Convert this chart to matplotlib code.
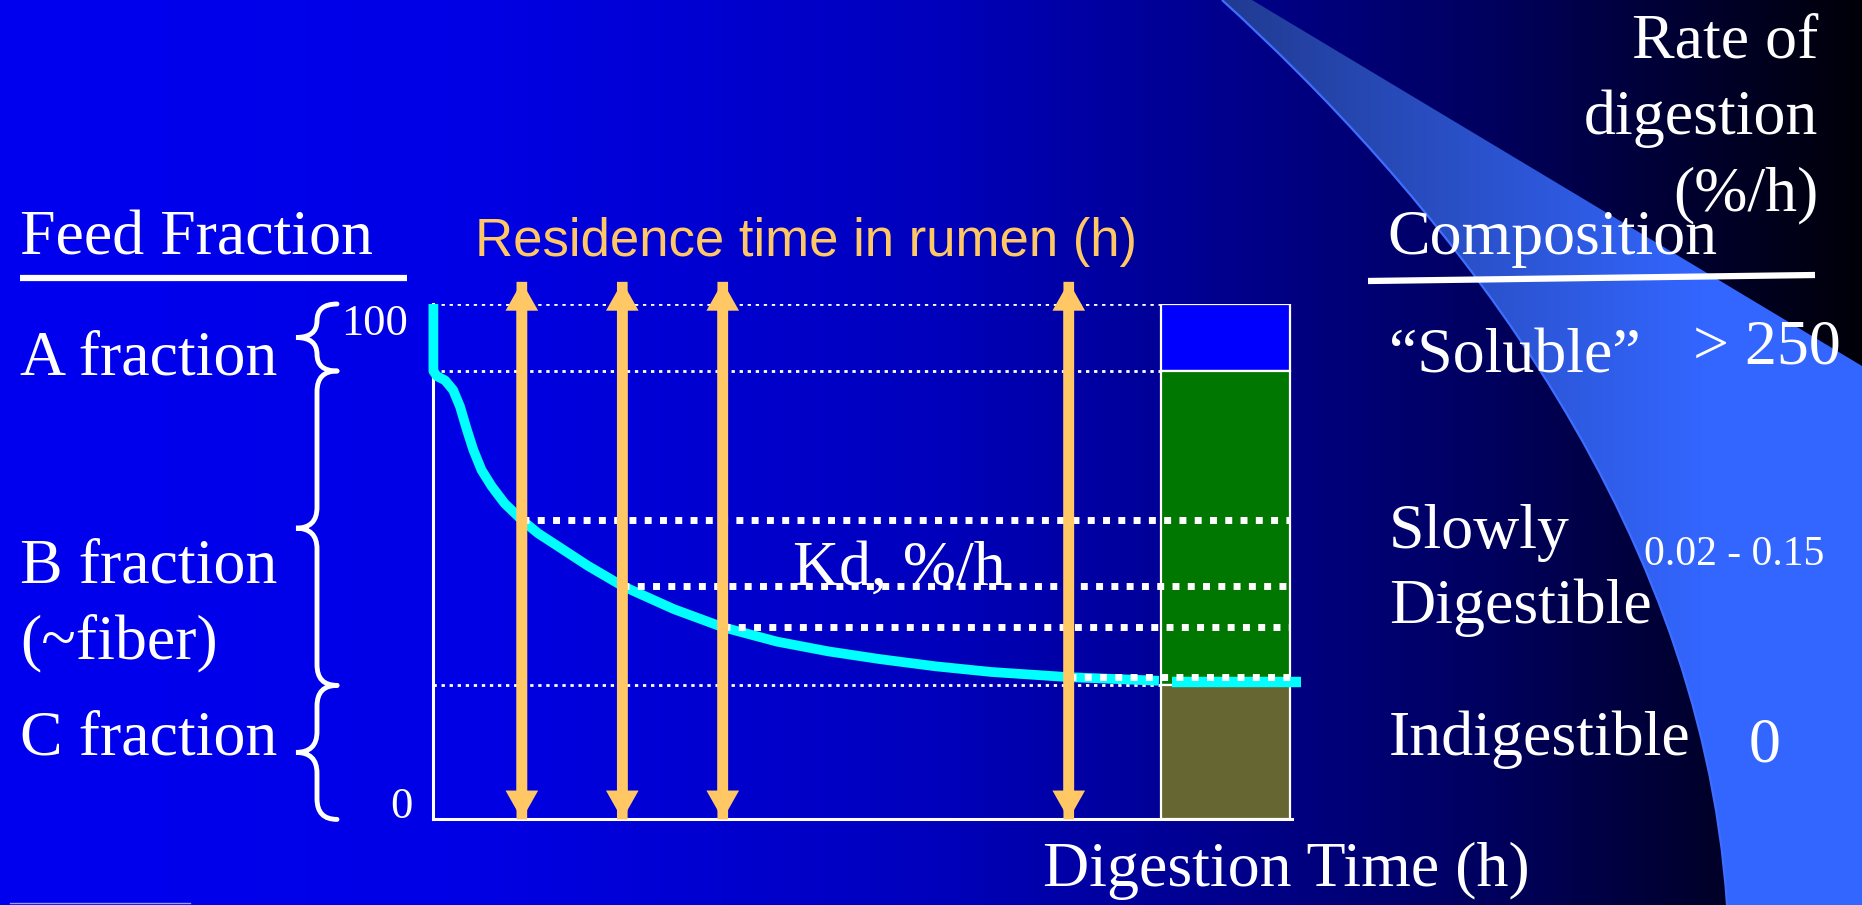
import numpy as np
import matplotlib
matplotlib.use("Agg")
import matplotlib.pyplot as plt
from matplotlib.path import Path
from matplotlib.patches import PathPatch
from matplotlib import transforms

W, H = 1862, 905

# data
fraction_labels = ["A fraction", "B fraction\n(~fiber)", "C fraction"]
fraction_bounds = [100, 87, 26, 0]          # % of feed: top, A/B, B/C, bottom
composition_labels = ["\u201cSoluble\u201d", "Slowly\nDigestible", "Indigestible"]
rate_labels = ["> 250", "0.02 - 0.15", "0"]
bar_colors = ["#0000FF", "#007700", "#666633"]

curve_time = [0, 0, 0.4, 1.35, 2.3, 3.1, 3.9, 4.65, 5.6, 6.8, 8.3, 10.3, 12.2,
              14.6, 18, 22, 28, 33.7, 40, 46, 52, 58.5, 65, 74, 84.5]
curve_left = [100, 87, 86.0, 85.2, 83.3, 80.1, 75.6, 71.7, 67.8, 64.6, 61.3,
              58.1, 55.5, 52.9, 49.2, 45.3, 40.8, 37.3, 34.5, 32.6, 31.1,
              29.7, 28.6, 27.6, 26.9]
tail_time = [86, 101]
tail_left = [26.7, 26.7]
residence_times = [10.3, 22, 33.7, 74]

bar_left, bar_right = 84.7, 99.8

SERIF = "Liberation Serif"
SANS = "Liberation Sans"
ARROW = "#FFC864"

fig = plt.figure(figsize=(W / 100, H / 100), dpi=100)

# background: slide gradient + swoosh
bg = fig.add_axes([0, 0, 1, 1])
stops_x = [0, 0.25, 0.5, 0.66, 0.8, 0.9, 1.0]
stops_b = [0.94, 0.90, 0.74, 0.55, 0.37, 0.20, 0.03]
grad = np.interp(np.linspace(0, 1, W), stops_x, stops_b)
img = np.zeros((2, W, 3))
img[..., 2] = grad
bg.imshow(img, extent=[0, W, H, 0], aspect="auto", zorder=0)

edge = Path([(1222, 0), (1420, 180), (1700, 500), (1727, 905)],
            [Path.MOVETO, Path.CURVE4, Path.CURVE4, Path.CURVE4])
swoosh = Path([(1222, 0), (1420, 180), (1700, 500), (1727, 905),
               (W, H), (W, 366), (1252, 0), (1222, 0)],
              [Path.MOVETO, Path.CURVE4, Path.CURVE4, Path.CURVE4,
               Path.LINETO, Path.LINETO, Path.LINETO, Path.CLOSEPOLY])
sw_patch = PathPatch(swoosh, facecolor="none", edgecolor="none")
bg.add_patch(sw_patch)
xs = np.arange(W)
t = np.clip((xs - 1222) / 480, 0, 1)
sw = np.zeros((2, W, 3))
sw[..., 0] = 0.13 + 0.07 * t
sw[..., 1] = 0.23 + 0.17 * t
sw[..., 2] = 0.57 + 0.43 * t
im = bg.imshow(sw, extent=[0, W, H, 0], aspect="auto", zorder=1)
im.set_clip_path(sw_patch)
bg.add_patch(PathPatch(edge, facecolor="none", edgecolor="#3D6EFF", lw=1.6, zorder=2))
bg.plot([10, 190], [903, 903], color="white", lw=1, alpha=0.6)
bg.set_xlim(0, W)
bg.set_ylim(H, 0)
bg.axis("off")

# main diagram axes
ax = fig.add_axes([433.4 / W, 1 - 819.4 / H, 858.6 / W, 515.4 / H])
ax.set_facecolor("none")
ax.set_xlim(0, 100)
ax.set_ylim(0, 100)
ax.set_xticks([])
ax.set_yticks([])
for s in ["top", "right"]:
    ax.spines[s].set_visible(False)
for s in ["left", "bottom"]:
    ax.spines[s].set_color("white")
    ax.spines[s].set_linewidth(2.2)

for b in fraction_bounds[:3]:
    ax.plot([0, bar_left], [b, b], color="white", lw=2, ls=(0, (1.2, 1.7)), zorder=2)

tops = np.array(fraction_bounds[:-1])
bottoms = np.array(fraction_bounds[1:])
ax.bar(bar_left, tops - bottoms, bottom=bottoms, width=bar_right - bar_left,
       align="edge", color=bar_colors, edgecolor="white", lw=1.6, zorder=3)

ax.plot(curve_time, curve_left, color="#00FFFF", lw=7, zorder=3.5,
        solid_joinstyle="round", solid_capstyle="butt", clip_on=False)
ax.plot(tail_time, tail_left, color="#00FFFF", lw=7.5, zorder=3.5,
        solid_capstyle="butt", clip_on=False)

kd_levels = np.interp(residence_times, curve_time[1:], curve_left[1:])
for rt, lv in zip(residence_times, kd_levels):
    ax.plot([rt, bar_right], [lv, lv], color="white", lw=5,
            ls=(0, (1.0, 1.2)), zorder=4)

# double-headed arrows: two full-length single-headed arrows, no seam
arrow_top = 104.3
for rt in residence_times:
    for start, end in ((0, arrow_top), (arrow_top, 0)):
        ax.arrow(rt, start, 0, end - start, width=1.24, head_width=3.8,
                 head_length=5.6, length_includes_head=True, color=ARROW,
                 lw=0, zorder=5, clip_on=False)

ax.text(54.3, 45.5, "Kd, %/h", fontsize=46, family=SERIF, color="white",
        ha="center", va="baseline", zorder=6)

# braces spanning the fractions (x in slide pixels, y in % of feed)
blend = transforms.blended_transform_factory(bg.transData, ax.transData)


def brace(y0, y1, x_end=337, x_spine=317, x_tip=296):
    r = min(4.0, (y1 - y0) / 4)
    ym = (y0 + y1) / 2
    verts = [(x_end, y1), (x_spine, y1), (x_spine, y1 - r), (x_spine, ym + r),
             (x_spine, ym), (x_tip, ym), (x_spine, ym), (x_spine, ym - r),
             (x_spine, y0 + r), (x_spine, y0), (x_end, y0)]
    codes = [Path.MOVETO, Path.CURVE3, Path.CURVE3, Path.LINETO,
             Path.CURVE3, Path.CURVE3, Path.CURVE3, Path.CURVE3,
             Path.LINETO, Path.CURVE3, Path.CURVE3]
    p = PathPatch(Path(verts, codes), transform=blend, facecolor="none",
                  edgecolor="white", lw=3.5, capstyle="round", zorder=3)
    fig.add_artist(p)


for top, bot in zip(fraction_bounds[:-1], fraction_bounds[1:]):
    brace(bot, top)


# slide text (pixel positions)
def lines(x, y, s, step=76, **kw):
    for i, part in enumerate(s.split("\n")):
        bg.text(x, y + i * step, part, va="baseline", **kw)


big = dict(fontsize=46, family=SERIF, color="white")

lines(20, 254, "Feed Fraction", **big)
bg.plot([20, 407], [278, 278], color="white", lw=4.5, solid_capstyle="butt")
for lab, y in zip(fraction_labels, [374, 582, 754]):
    lines(20, y, lab, **big)

bg.text(408, 335, "100", fontsize=32, family=SERIF, color="white",
        ha="right", va="baseline")
bg.text(413, 818, "0", fontsize=32, family=SERIF, color="white",
        ha="right", va="baseline")

bg.text(475, 256, "Residence time in rumen (h)", fontsize=38, family=SANS,
        color=ARROW, va="baseline")
bg.text(1043, 886, "Digestion Time (h)", va="baseline", **big)

lines(1818, 58, "Rate of\ndigestion\n(%/h)", step=76, ha="right", **big)
lines(1387, 254, "Composition", **big)
bg.plot([1368, 1815], [281, 275], color="white", lw=4.5, solid_capstyle="butt")
for lab, y in zip(composition_labels, [372, 548, 755]):
    lines(1389, y, lab, step=75, **big)

bg.text(1841, 363, rate_labels[0], ha="right", va="baseline", **big)
bg.text(1644, 565, rate_labels[1], fontsize=30, family=SERIF, color="white",
        va="baseline")
bg.text(1749, 761, rate_labels[2], va="baseline", **big)

fig.savefig("out.png", dpi=100)
